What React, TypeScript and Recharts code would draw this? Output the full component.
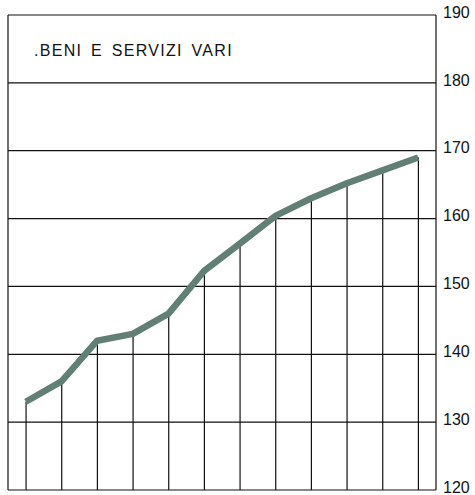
import React from 'react';
import { ComposedChart, Line, Bar, XAxis, YAxis, CartesianGrid } from 'recharts';

// periodi (12 osservazioni) e valori dell'indice
const periods = ['1', '2', '3', '4', '5', '6', '7', '8', '9', '10', '11', '12'];
const indexValues = [133, 136, 142, 143, 146, 152.3, 156.3, 160.4, 163, 165.2, 167.1, 169];
const yTicks = [120, 130, 140, 150, 160, 170, 180, 190];

const data = periods.map((p, i) => ({ period: p, value: indexValues[i] }));

// drop line from the point down to the baseline
const DropLine = (props: any) => {
  const { x, y, width, height } = props;
  const cx = x + width / 2;
  return <line x1={cx} y1={y} x2={cx} y2={y + height} stroke="#111" strokeWidth={1.2} />;
};

export default function App() {
  return (
    <div style={{ position: 'absolute', left: 0, top: 0, width: 475, height: 495, background: '#fff' }}>
      <ComposedChart width={475} height={495} data={data} margin={{ top: 15, right: 0, bottom: 5, left: 8 }}>
        <CartesianGrid
          yAxisId="val"
          horizontal
          vertical
          verticalCoordinatesGenerator={({ offset }: any) => [offset.left]}
          stroke="#111"
          strokeWidth={1.2}
        />
        <XAxis dataKey="period" hide />
        <YAxis
          yAxisId="val"
          orientation="right"
          width={39}
          domain={[120, 190]}
          ticks={yTicks}
          interval={0}
          tickLine={false}
          tickSize={0}
          tickMargin={7}
          axisLine={{ stroke: '#111', strokeWidth: 1.2 }}
          tick={{ fill: '#111', fontSize: 16, fontFamily: 'Liberation Sans, Arial, sans-serif', dy: -3 }}
        />
        <Bar yAxisId="val" dataKey="value" shape={DropLine} isAnimationActive={false} />
        <Line
          yAxisId="val"
          type="linear"
          dataKey="value"
          stroke="#617f74"
          strokeWidth={6.5}
          strokeLinejoin="round"
          dot={false}
          activeDot={false}
          isAnimationActive={false}
        />
      </ComposedChart>
      <div
        style={{
          position: 'absolute',
          left: 34,
          top: 42,
          fontFamily: 'Liberation Sans, Arial, sans-serif',
          fontSize: 16,
          letterSpacing: 1.3,
          wordSpacing: 3,
          color: '#111',
          whiteSpace: 'nowrap',
        }}
      >
        .BENI E SERVIZI VARI
      </div>
    </div>
  );
}
